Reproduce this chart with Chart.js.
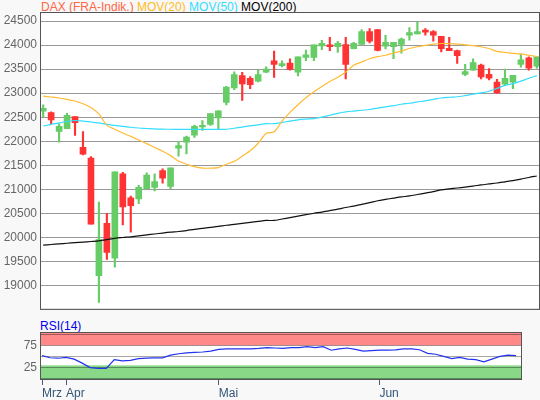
<!DOCTYPE html>
<html>
<head>
<meta charset="utf-8">
<script src="https://cdn.jsdelivr.net/npm/chart.js@4"></script>
<style>
  body { margin: 0; background: #f8f8f8; font-family: "Liberation Sans", Arial, sans-serif; }
  #wrap { position: relative; width: 540px; height: 400px; }
  canvas { position: absolute; left: 0; }
  #main { top: 0; }
  #rsi { top: 320px; }
  .lbl { position: absolute; font-size: 12px; white-space: nowrap; }
</style>
</head>
<body>
<div id="wrap">
  <div class="lbl" style="left:41px;top:0px;">
    <span style="color:#ff6644">DAX (FRA-Indik.)</span>
    <span style="color:#ffbb22">MOV(20)</span> <span style="color:#33ddff">MOV(50)</span>
    <span style="color:#000">MOV(200)</span>
  </div>
  <div class="lbl" style="left:40px;top:319px;color:#0000ee;">RSI(14)</div>
  <canvas id="main" width="540" height="320"></canvas>
  <canvas id="rsi" width="540" height="80"></canvas>
</div>
<script>
// OHLC per trading day
const opens  = [22627,22594,22202,22262,22513,21870,21647,19200,20289,19565,21323,20823,20796,21012,21039,21390,21059,21857,21979,22127,22296,22350,22486,22810,23107,23364,23310,23249,23439,
                23675,23574,23628,23439,23743,23743,23986,24007,23966,24013,23925,24013,24284,24324,23979,23966,24013,24209,24236,24311,24284,24182,23932,23885,23391,23479,23587,23391,23229,23189,23229,23601,23736,23560];
const closes = [22682,22445,22310,22540,22384,21728,20275,19950,19687,21363,20633,20660,21039,21296,21161,21228,21444,21911,22087,22310,22330,22573,22634,23128,23385,23195,23175,23385,23500,
                23601,23614,23493,23756,23797,24007,24040,23966,24040,23601,24040,24284,24081,23892,24061,24061,24128,24263,24284,24270,24209,23925,23885,23783,23452,23635,23337,23310,23006,23310,23371,23696,23520,23756];
const highs  = [22756,22614,22364,22580,22513,22202,21681,20735,20498,21363,21350,20856,21080,21343,21323,21424,21444,21999,22107,22337,22431,22573,22634,23141,23445,23432,23344,23479,23547,
                23878,23675,23716,23756,23898,24007,24101,24162,24081,24162,24061,24324,24345,24324,24203,24061,24148,24365,24486,24345,24304,24182,24162,23898,23601,23716,23608,23513,23290,23500,23371,23810,23756,23756];
const lows   = [22499,22364,21979,22262,22120,21715,20275,18646,19538,19376,20255,20106,20701,21012,20964,21127,21012,21688,21735,22080,22222,22330,22249,22756,23074,22851,23094,23236,23425,
                23330,23547,23479,23358,23675,23675,23905,23885,23851,23297,23919,24013,24047,23878,23919,23716,23831,24101,24236,24209,24081,23858,23885,23621,23364,23479,23297,23276,22993,23162,23094,23540,23479,23520];

const mov20  = [22938,22920,22900,22870,22837,22780,22700,22567,22330,22250,22170,22100,22026,21950,21870,21790,21700,21586,21520,21470,21440,21438,21450,21519,21580,21688,21800,21958,22161,
                22195,22418,22600,22760,22905,23030,23140,23243,23330,23440,23581,23650,23716,23760,23790,23837,23880,23930,23966,23995,24020,24034,24030,24020,24007,23990,23966,23930,23871,23850,23830,23817,23790,23763];
const mov50  = [22316,22350,22380,22410,22431,22420,22400,22380,22350,22330,22310,22290,22275,22265,22255,22250,22249,22245,22245,22245,22245,22245,22248,22249,22270,22295,22320,22340,22364,
                22364,22390,22420,22445,22460,22472,22500,22540,22580,22610,22628,22645,22660,22690,22716,22740,22770,22790,22817,22840,22870,22900,22915,22925,22950,22980,23006,23040,23100,23162,23200,23250,23310,23364];
const mov200 = [19836,19850,19862,19875,19888,19900,19912,19925,19950,19978,19995,20010,20030,20050,20068,20088,20106,20120,20140,20165,20185,20205,20225,20250,20270,20290,20310,20330,20350,
                20350,20380,20410,20440,20470,20500,20525,20555,20585,20620,20650,20685,20720,20760,20789,20815,20840,20860,20890,20920,20950,20985,21006,21026,21045,21065,21090,21110,21130,21155,21180,21210,21245,21276];

const rsi14  = [52,47,46,48,44,35,25,23,23,43,40,41,45,46,47,47,53,56,58,59,60,62,66,67,67,67,67,68,70,69,
                68,70,70,72,70,72,64,67,69,66,62,63,64,64,65,67,67,65,57,55,50,45,48,44,43,38,44,50,53,52];

const monthTicks = [0, 3, 22, 42];
const monthLabels = ['Mrz', 'Apr', 'Mai', 'Jun'];

const UP = '#66cc66', DOWN = '#ff3333';
const FONT = { family: '"Liberation Sans", Arial, sans-serif', size: 12 };

const idx = opens.map((_, i) => i);
const candleColors = idx.map(i => closes[i] >= opens[i] ? UP : DOWN);

const plotBg = {
    id: 'plotBg',
    beforeDraw(chart, args, opts) {
        const { ctx, chartArea: a, scales } = chart;
        ctx.save();
        ctx.fillStyle = '#fff';
        ctx.fillRect(a.left, a.top, a.width, a.height);
        (opts.bands || []).forEach(b => {
            const y1 = scales.y.getPixelForValue(b.to);
            const y2 = scales.y.getPixelForValue(b.from);
            ctx.fillStyle = b.color;
            ctx.fillRect(a.left, y1, a.width, y2 - y1);
        });
        ctx.restore();
    },
    afterDraw(chart) {
        const { ctx, chartArea: a } = chart;
        ctx.save();
        ctx.strokeStyle = '#555';
        ctx.lineWidth = 1;
        ctx.strokeRect(a.left + 0.5, a.top + 0.5, a.width - 1, a.height - 1);
        ctx.restore();
    }
};

const lineDs = (data, color) => ({
    type: 'line',
    data: data.map((v, i) => ({ x: i, y: v })),
    borderColor: color,
    borderWidth: 1.2,
    pointRadius: 0,
    tension: 0.3,
    order: 0
});

new Chart(document.getElementById('main'), {
    type: 'bar',
    data: {
        datasets: [
            {
                data: idx.map(i => ({ x: i, y: [lows[i], highs[i]] })),
                backgroundColor: candleColors,
                barThickness: 1.5,
                grouped: false,
                order: 2
            },
            {
                data: idx.map(i => ({ x: i, y: [opens[i], closes[i]] })),
                backgroundColor: candleColors,
                barThickness: 6,
                grouped: false,
                order: 1
            },
            lineDs(mov20, '#ffbb33'),
            lineDs(mov50, '#33ddff'),
            lineDs(mov200, '#111')
        ]
    },
    options: {
        responsive: false,
        animation: false,
        layout: { padding: { top: 12, right: 0, bottom: 2, left: 0 } },
        plugins: { legend: { display: false }, tooltip: { enabled: false } },
        scales: {
            x: { type: 'linear', offset: false, min: -0.4, max: 62.4, display: false },
            y: {
                min: 18490, max: 24690,
                afterFit: s => { s.width = 40; },
                afterBuildTicks: s => {
                    s.ticks = [];
                    for (let v = 18500; v <= 24500; v += 500) s.ticks.push({ value: v });
                },
                ticks: { color: '#666', font: FONT, padding: 3, autoSkip: false, callback: v => v === 18500 ? '' : v },
                grid: { color: '#999', drawTicks: false },
                border: { display: false }
            }
        }
    },
    plugins: [plotBg]
});

new Chart(document.getElementById('rsi'), {
    type: 'line',
    data: {
        datasets: [{
            data: rsi14.map((v, i) => ({ x: i, y: v })),
            borderColor: '#2233ee',
            borderWidth: 1.2,
            pointRadius: 0
        }]
    },
    options: {
        responsive: false,
        animation: false,
        layout: { padding: { top: 12, right: 18, bottom: 0, left: 0 } },
        plugins: {
            legend: { display: false }, tooltip: { enabled: false },
            plotBg: { bands: [
                { from: 75, to: 105, color: '#ff8888' },
                { from: -3, to: 30, color: '#88d888' }
            ] }
        },
        scales: {
            x: {
                type: 'linear', min: -0.25, max: 59.75,
                afterFit: s => { s.height = 20; },
                afterBuildTicks: s => { s.ticks = monthTicks.map(v => ({ value: v })); },
                ticks: {
                    color: '#335577', font: FONT, align: 'start', padding: 1, maxRotation: 0, autoSkip: false,
                    callback: v => monthLabels[monthTicks.indexOf(v)]
                },
                grid: { drawOnChartArea: false, tickLength: 5, color: '#557' },
                border: { display: false }
            },
            y: {
                min: -3, max: 105,
                afterFit: s => { s.width = 40; },
                afterBuildTicks: s => { s.ticks = [0, 25, 50, 75, 100].map(v => ({ value: v })); },
                ticks: { color: '#666', font: FONT, padding: 3, autoSkip: false, callback: v => (v === 25 || v === 75) ? v : '' },
                grid: { color: 'rgba(0,0,0,0.35)', drawTicks: false },
                border: { display: false }
            }
        }
    },
    plugins: [plotBg]
});
</script>
</body>
</html>
